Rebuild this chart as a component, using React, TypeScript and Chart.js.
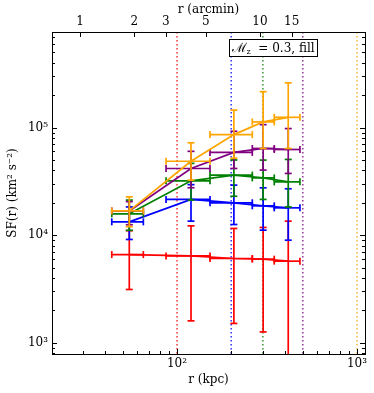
import React, { useEffect, useRef } from "react";
import { Chart, registerables } from "chart.js";
Chart.register(...registerables);

// ---- data (kpc bins shared by all series) ----
const xCenter = [54.3, 119.6, 207, 301, 415];
const xLow = [43.4, 86.9, 152.5, 262, 347];
const xHigh = [65, 152.5, 262, 347, 482];

const redY = [6600, 6410, 6070, 5980, 5730];
const redLo = [3125, 1596, 1510, 1260, 300];
const redHi = [11000, 12200, 11550, 11800, 13500];

const blueY = [13300, 21500, 20000, 18740, 17950];
const blueLo = [9120, 13500, 12560, 11130, 8980];
const blueHi = [18300, 29500, 29200, 27560, 27000];

const greenY = [15800, 32000, 36200, 34100, 31300];
const greenLo = [11100, 21200, 23000, 21500, 18300];
const greenHi = [21200, 46500, 50000, 49900, 50600];

const purpleY = [16800, 41700, 58800, 64000, 62600];
const purpleLo = [12500, 27600, 41700, 40300, 37500];
const purpleHi = [20500, 60200, 92500, 106600, 98000];

const orangeY = [16800, 48700, 86100, 113000, 124700];
const orangeLo = [12000, 32500, 52000, 64000, 64000];
const orangeHi = [22700, 72300, 145600, 216000, 261000];

const refLinesKpc = [100, 200, 300, 500, 1000];
const refLineColors = ["#ff0000", "#0000ff", "#008000", "#800080", "#ffa500"];

const xTickVals = [100, 1000];
const xTickLabels = ["10²", "10³"];
const yTickVals = [1000, 10000, 100000];
const yTickLabels = ["10³", "10⁴", "10⁵"];
const arcminTicks = [1, 2, 3, 5, 10, 15];
const KPC_PER_ARCMIN = 28.91;

const X_MIN = 20.2;
const X_MAX = 1108;
const Y_MIN = 785;
const Y_MAX = 775000;

const FONT = "DejaVu Serif";

function series(label: string, color: string, ys: number[], lo: number[], hi: number[]) {
  return {
    label,
    data: xCenter.map((x, i) => ({ x, y: ys[i] })),
    borderColor: color,
    backgroundColor: color,
    borderWidth: 1.7,
    pointRadius: 0,
    tension: 0,
    errorBars: { xLow, xHigh, lo, hi },
  } as any;
}

const errorBarPlugin = {
  id: "errbars",
  afterDatasetDraw(chart: any, args: any) {
    const ds = chart.data.datasets[args.index];
    const eb = ds.errorBars;
    if (!eb) return;
    const { ctx, chartArea } = chart;
    const xs = chart.scales.x;
    const ys = chart.scales.y;
    ctx.save();
    ctx.beginPath();
    ctx.rect(chartArea.left, chartArea.top, chartArea.width, chartArea.height);
    ctx.clip();
    ctx.strokeStyle = ds.borderColor;
    ctx.lineWidth = 1.7;
    const cap = 3.5;
    const seg = (a: number, b: number, c: number, d: number) => {
      ctx.beginPath();
      ctx.moveTo(a, b);
      ctx.lineTo(c, d);
      ctx.stroke();
    };
    ds.data.forEach((p: any, i: number) => {
      const px = xs.getPixelForValue(p.x);
      const py = ys.getPixelForValue(p.y);
      const xl = xs.getPixelForValue(eb.xLow[i]);
      const xh = xs.getPixelForValue(eb.xHigh[i]);
      const yl = ys.getPixelForValue(eb.lo[i]);
      const yh = ys.getPixelForValue(eb.hi[i]);
      seg(xl, py, xh, py);
      seg(xl, py - cap, xl, py + cap);
      seg(xh, py - cap, xh, py + cap);
      seg(px, yl, px, yh);
      seg(px - cap, yl, px + cap, yl);
      seg(px - cap, yh, px + cap, yh);
    });
    ctx.restore();
  },
};

const refLinePlugin = {
  id: "reflines",
  beforeDatasetsDraw(chart: any) {
    const { ctx, chartArea } = chart;
    const xs = chart.scales.x;
    ctx.save();
    ctx.lineWidth = 1.5;
    ctx.setLineDash([1.5, 2.5]);
    ctx.globalAlpha = 0.8;
    refLinesKpc.forEach((v, i) => {
      const px = xs.getPixelForValue(v);
      if (px < chartArea.left || px > chartArea.right) return;
      ctx.strokeStyle = refLineColors[i];
      ctx.beginPath();
      ctx.moveTo(px, chartArea.top);
      ctx.lineTo(px, chartArea.bottom);
      ctx.stroke();
    });
    ctx.restore();
  },
};

const framePlugin = {
  id: "frame",
  afterDraw(chart: any) {
    const { ctx, chartArea: ca } = chart;
    const xs = chart.scales.x;
    const x2 = chart.scales.x2;
    const ys = chart.scales.y;
    ctx.save();
    ctx.strokeStyle = "#000";
    ctx.lineWidth = 1;
    const seg = (a: number, b: number, c: number, d: number) => {
      ctx.beginPath();
      ctx.moveTo(a, b);
      ctx.lineTo(c, d);
      ctx.stroke();
    };
    for (let dec = 10; dec <= 1000; dec *= 10) {
      for (let m = 1; m <= 9; m++) {
        const v = dec * m;
        if (v < X_MIN || v > X_MAX) continue;
        const px = Math.round(xs.getPixelForValue(v)) + 0.5;
        const len = m === 1 ? 5 : 3;
        seg(px, ca.bottom, px, ca.bottom - len);
      }
    }
    arcminTicks.forEach((v) => {
      const px = Math.round(x2.getPixelForValue(v)) + 0.5;
      seg(px, ca.top, px, ca.top + 5);
    });
    for (let dec = 100; dec <= 1000000; dec *= 10) {
      for (let m = 1; m <= 9; m++) {
        const v = dec * m;
        if (v < Y_MIN || v > Y_MAX) continue;
        const py = Math.round(ys.getPixelForValue(v)) + 0.5;
        const len = m === 1 ? 5 : 3;
        seg(ca.left, py, ca.left + len, py);
        seg(ca.right, py, ca.right - len, py);
      }
    }
    ctx.strokeRect(Math.round(ca.left) + 0.5, Math.round(ca.top) + 0.5, Math.round(ca.width), Math.round(ca.height));

    // annotation box
    const bx = ca.left + 177;
    const by = ca.top + 7;
    ctx.font = `13px ${FONT}`;
    const mW = ctx.measureText("ℳ").width;
    ctx.font = `8px ${FONT}`;
    const zW = ctx.measureText("z").width;
    ctx.font = `12px ${FONT}`;
    const rest = "  = 0.3, fill";
    const rW = ctx.measureText(rest).width;
    const w = mW + zW + rW + 5;
    ctx.fillStyle = "#fff";
    ctx.fillRect(bx, by, w, 17);
    ctx.strokeRect(Math.round(bx) + 0.5, Math.round(by) + 0.5, Math.round(w), 17);
    ctx.fillStyle = "#000";
    ctx.textBaseline = "alphabetic";
    let tx = bx + 2.5;
    const base = by + 13;
    ctx.font = `13px ${FONT}`;
    ctx.fillText("ℳ", tx, base);
    tx += mW;
    ctx.font = `8px ${FONT}`;
    ctx.fillText("z", tx, base + 2);
    tx += zW;
    ctx.font = `12px ${FONT}`;
    ctx.fillText(rest, tx, base);
    ctx.restore();
  },
};

export default function App() {
  const ref = useRef<HTMLCanvasElement | null>(null);
  useEffect(() => {
    if (!ref.current) return;
    const font = { family: FONT, size: 12 };
    const chart = new Chart(ref.current, {
      type: "line",
      data: {
        datasets: [
          series("orange", "#ffa500", orangeY, orangeLo, orangeHi),
          series("purple", "#800080", purpleY, purpleLo, purpleHi),
          series("green", "#008000", greenY, greenLo, greenHi),
          series("blue", "#0000ff", blueY, blueLo, blueHi),
          series("red", "#ff0000", redY, redLo, redHi),
        ],
      },
      options: {
        animation: false,
        responsive: true,
        maintainAspectRatio: false,
        layout: { padding: { right: 9, left: 0, top: 0, bottom: 0 } },
        plugins: { legend: { display: false }, tooltip: { enabled: false } },
        scales: {
          x: {
            type: "logarithmic",
            position: "bottom",
            min: X_MIN,
            max: X_MAX,
            grid: { display: false, drawTicks: false },
            border: { display: false },
            afterBuildTicks: (s: any) => {
              s.ticks = xTickVals.map((v) => ({ value: v }));
            },
            afterFit: (s: any) => {
              s.height = 39;
            },
            ticks: {
              autoSkip: false,
              maxRotation: 0,
              padding: 3,
              color: "#000",
              font,
              callback: (v: any) => xTickLabels[xTickVals.indexOf(Number(v))] ?? "",
            },
            title: { display: true, text: "r (kpc)", color: "#000", font, padding: { top: 0, bottom: 6 } },
          },
          x2: {
            type: "logarithmic",
            position: "top",
            min: X_MIN / KPC_PER_ARCMIN,
            max: X_MAX / KPC_PER_ARCMIN,
            grid: { display: false, drawTicks: false },
            border: { display: false },
            afterBuildTicks: (s: any) => {
              s.ticks = arcminTicks.map((v) => ({ value: v }));
            },
            afterFit: (s: any) => {
              s.height = 32;
            },
            ticks: {
              autoSkip: false,
              maxRotation: 0,
              padding: 3,
              color: "#000",
              font,
              callback: (v: any) => String(v),
            },
            title: { display: true, text: "r (arcmin)", color: "#000", font, padding: { top: 3, bottom: 0 } },
          },
          y: {
            type: "logarithmic",
            position: "left",
            min: Y_MIN,
            max: Y_MAX,
            grid: { display: false, drawTicks: false },
            border: { display: false },
            afterBuildTicks: (s: any) => {
              s.ticks = yTickVals.map((v) => ({ value: v }));
            },
            afterFit: (s: any) => {
              s.width = 52;
            },
            ticks: {
              autoSkip: false,
              padding: 4,
              color: "#000",
              font,
              callback: (v: any) => yTickLabels[yTickVals.indexOf(Number(v))] ?? "",
            },
            title: {
              display: true,
              text: "SF(r) (km² s⁻²)",
              color: "#000",
              font: { family: FONT, size: 12 },
              padding: { top: 6, bottom: 0 },
            },
          },
        },
      } as any,
      plugins: [refLinePlugin, errorBarPlugin, framePlugin],
    });
    return () => chart.destroy();
  }, []);
  return (
    <div style={{ position: "fixed", left: 0, top: 0, width: 374, height: 393, background: "#fff" }}>
      <canvas ref={ref} />
    </div>
  );
}
